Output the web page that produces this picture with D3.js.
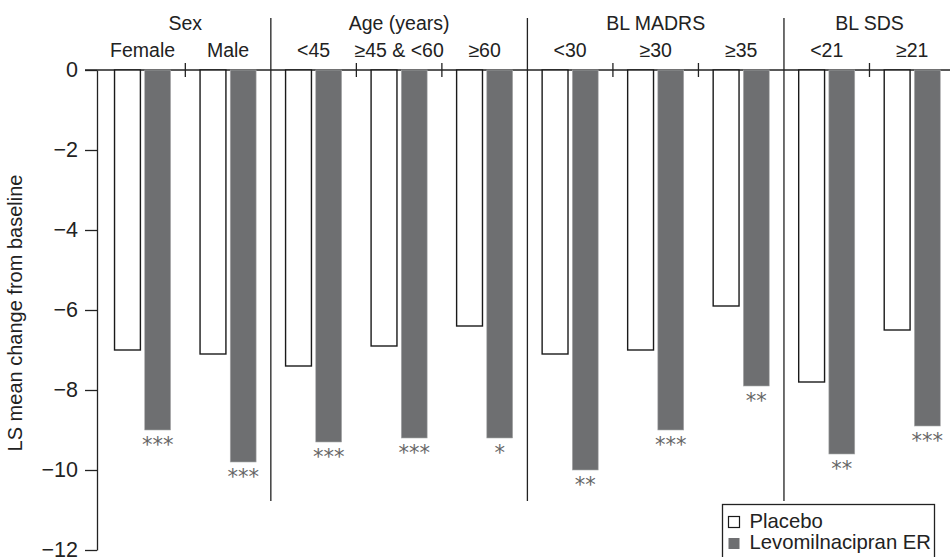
<!DOCTYPE html>
<html>
<head>
<meta charset="utf-8">
<script src="https://cdn.jsdelivr.net/npm/d3@7"></script>
<style>
  body { margin: 0; background: #fff; }
  svg { display: block; font-family: "Liberation Sans", Arial, sans-serif; }
</style>
</head>
<body>
<script>
// groups and their subgroups
const groups = ["Sex", "Age (years)", "BL MADRS", "BL SDS"];
const categories = ["Female", "Male", "<45", "≥45 & <60", "≥60", "<30", "≥30", "≥35", "<21", "≥21"];
const categoryGroup = ["Sex", "Sex", "Age (years)", "Age (years)", "Age (years)", "BL MADRS", "BL MADRS", "BL MADRS", "BL SDS", "BL SDS"];
const series = ["Placebo", "Levomilnacipran ER"];
const placebo = [-7.0, -7.1, -7.4, -6.9, -6.4, -7.1, -7.0, -5.9, -7.8, -6.5];
const levo = [-9.0, -9.8, -9.3, -9.2, -9.2, -10.0, -9.0, -7.9, -9.6, -8.9];
const stars = ["***", "***", "***", "***", "*", "**", "***", "**", "**", "***"];
const yTicks = [0, -2, -4, -6, -8, -10, -12];

const svgWidth = 950;
const svgHeight = 557;
const grey = "#6e6f71";

const data = categories.map((c, i) => ({
  cat: c, group: categoryGroup[i], stars: stars[i],
  values: [{ s: series[0], v: placebo[i] }, { s: series[1], v: levo[i] }]
}));

const svg = d3.select("body")
  .append("svg")
  .attr("width", svgWidth)
  .attr("height", svgHeight);

const xScale = d3.scaleBand()
  .domain(categories)
  .range([99.8, 955])
  .padding(0);

const xInner = d3.scaleBand()
  .domain(series)
  .range([0, xScale.bandwidth()])
  .paddingInner(0.143)
  .paddingOuter(0.488);

const yScale = d3.scaleLinear()
  .domain([0, -12])
  .range([70, 550]);

// y axis
const yAxis = svg.append("g")
  .attr("transform", "translate(97,0)")
  .call(d3.axisLeft(yScale).tickValues(yTicks).tickSize(12).tickSizeOuter(0).tickPadding(7));
yAxis.select(".domain").attr("stroke", "#222").attr("stroke-width", 1.3);
yAxis.selectAll(".tick line").attr("stroke", "#222").attr("stroke-width", 1.3);
yAxis.selectAll(".tick text")
  .attr("font-family", "Liberation Sans, Arial, sans-serif")
  .attr("font-size", 21.5)
  .attr("fill", "#222");

// zero line across the chart
svg.append("line")
  .attr("x1", 85).attr("x2", svgWidth)
  .attr("y1", yScale(0)).attr("y2", yScale(0))
  .attr("stroke", "#222").attr("stroke-width", 1.3);

// y label
svg.append("text")
  .attr("transform", `translate(22,${(yScale(0) + yScale(-12)) / 2 + 3}) rotate(-90)`)
  .attr("text-anchor", "middle")
  .attr("font-size", 20)
  .attr("fill", "#222")
  .text("LS mean change from baseline");

// group spans
const groupInfo = groups.map(g => {
  const cats = categories.filter((c, i) => categoryGroup[i] === g);
  const x0 = xScale(cats[0]);
  const x1 = xScale(cats[cats.length - 1]) + xScale.bandwidth();
  return { g, x0, x1 };
});

// dividers between groups
svg.selectAll(".divider")
  .data(groupInfo.slice(1))
  .enter().append("line")
  .attr("class", "divider")
  .attr("x1", d => d.x0).attr("x2", d => d.x0)
  .attr("y1", 18).attr("y2", 501)
  .attr("stroke", "#222").attr("stroke-width", 1.3);

// small ticks between subgroups
const innerBounds = categories.slice(1)
  .filter((c, i) => categoryGroup[i + 1] === categoryGroup[i])
  .map(c => xScale(c));
svg.selectAll(".subtick")
  .data(innerBounds)
  .enter().append("line")
  .attr("x1", d => d).attr("x2", d => d)
  .attr("y1", yScale(0) - 7).attr("y2", yScale(0) + 7)
  .attr("stroke", "#222").attr("stroke-width", 1.3);

// group labels
svg.selectAll(".glabel")
  .data(groupInfo)
  .enter().append("text")
  .attr("x", d => (d.x0 + d.x1) / 2)
  .attr("y", 30)
  .attr("text-anchor", "middle")
  .attr("font-size", 19.5)
  .attr("fill", "#222")
  .text(d => d.g);

// subgroup labels
svg.selectAll(".clabel")
  .data(categories)
  .enter().append("text")
  .attr("x", d => xScale(d) + xScale.bandwidth() / 2)
  .attr("y", 57)
  .attr("text-anchor", "middle")
  .attr("font-size", 19.5)
  .attr("fill", "#222")
  .text(d => d);

// bars
const cat = svg.selectAll(".cat")
  .data(data)
  .enter().append("g")
  .attr("transform", d => `translate(${xScale(d.cat)},0)`);

cat.selectAll("rect")
  .data(d => d.values)
  .enter().append("rect")
  .attr("x", d => xInner(d.s))
  .attr("y", yScale(0))
  .attr("width", xInner.bandwidth())
  .attr("height", d => yScale(d.v) - yScale(0))
  .attr("fill", d => d.s === series[0] ? "#fff" : grey)
  .attr("stroke", d => d.s === series[0] ? "#1a1a1a" : "#a9aaab")
  .attr("stroke-width", d => d.s === series[0] ? 1.4 : 0.6);

// significance stars
cat.append("text")
  .attr("x", xInner(series[1]) + xInner.bandwidth() / 2)
  .attr("y", d => yScale(d.values[1].v) + 22)
  .attr("text-anchor", "middle")
  .attr("font-family", "DejaVu Sans, sans-serif")
  .attr("font-size", 21)
  .attr("fill", "#666")
  .text(d => d.stars);

// legend
const legend = svg.append("g").attr("transform", "translate(722.5,504.5)");
legend.append("rect")
  .attr("width", 212).attr("height", 70)
  .attr("fill", "#fff").attr("stroke", "#222").attr("stroke-width", 1.3);
legend.selectAll(".item")
  .data(series)
  .enter().append("g")
  .attr("transform", (d, i) => `translate(6,${12 + i * 21.5})`)
  .each(function (d, i) {
    const g = d3.select(this);
    g.append("rect")
      .attr("width", 11).attr("height", 11)
      .attr("fill", i === 0 ? "#fff" : grey)
      .attr("stroke", i === 0 ? "#1a1a1a" : "none")
      .attr("stroke-width", 1.2);
    g.append("text")
      .attr("x", 21).attr("y", 11)
      .attr("font-size", 20.3)
      .attr("fill", "#222")
      .text(d);
  });
</script>
</body>
</html>
